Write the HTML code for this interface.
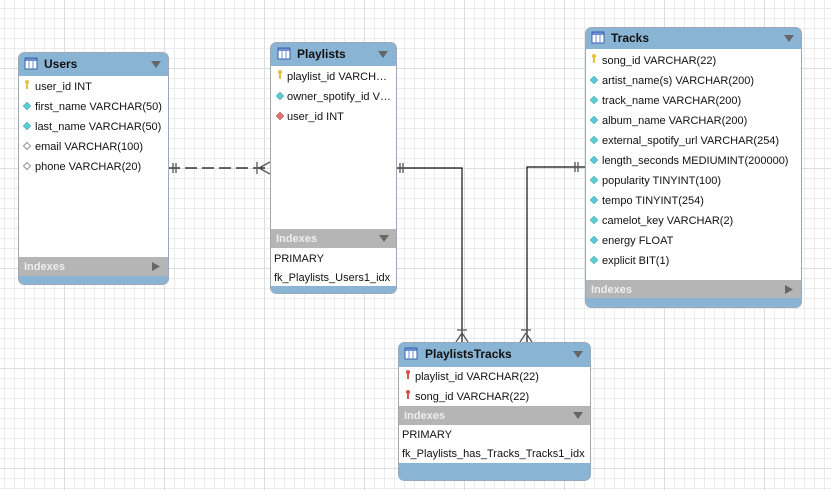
<!DOCTYPE html>
<html><head><meta charset="utf-8"><style>
html,body{margin:0;padding:0;background:#fff;}
svg{display:block;font-family:"Liberation Sans",Arial,sans-serif;}
.r{font-size:11px;fill:#111;}
.h{font-size:12px;font-weight:bold;fill:#111;}
.ix{font-size:11px;font-weight:bold;fill:#eee;}
</style></head><body>
<svg width="831" height="490" viewBox="0 0 831 490" xmlns="http://www.w3.org/2000/svg">
<defs>
<pattern id="g" x="4" y="8" width="10" height="10" patternUnits="userSpaceOnUse">
<path d="M0.5 0V10M0 0.5H10" stroke="#ebebeb" stroke-width="1" fill="none"/>
</pattern>
<pattern id="G" x="64" y="68" width="100" height="100" patternUnits="userSpaceOnUse">
<path d="M0.5 0V100M0 0.5H100" stroke="#dddddd" stroke-width="1" fill="none"/>
</pattern>
<g id="key"><path d="M-2,-4 a2,2 0 1 1 4,0 v1 l-1,1 v5 h-2 v-5 l-1,-1z" fill="#e8c040"/></g>
<g id="rkey"><path d="M-2,-4 a2,2 0 1 1 4,0 v1 l-1,1 v5 h-2 v-5 l-1,-1z" fill="#d85050"/></g>
<g id="dia"><path d="M0,-4 L4,0 L0,4 L-4,0Z" fill="#5cc8d0" stroke="#3aa0a8" stroke-width="0.5"/></g>
<g id="hdia"><path d="M0,-3.5 L3.5,0 L0,3.5 L-3.5,0Z" fill="#fff" stroke="#777" stroke-width="0.8"/></g>
<g id="rdia"><path d="M0,-4 L4,0 L0,4 L-4,0Z" fill="#e07070" stroke="#b04848" stroke-width="0.5"/></g>
<g id="tico"><rect x="0" y="0" width="12" height="11" fill="#fff" stroke="#3a5fb0"/><rect x="0.5" y="0.5" width="11" height="2.5" fill="#6f8fd0"/><path d="M4 3V11M8 3V11" stroke="#6f8fd0"/></g>
<g id="dn"><path d="M-5,-3 H5 L0,4Z" fill="#666"/></g>
</defs>
<rect width="831" height="490" fill="url(#g)"/>
<rect width="831" height="490" fill="url(#G)"/>

<!-- connectors -->
<g stroke="#111" stroke-width="1.2" fill="none">
<path d="M168 168H270" stroke-dasharray="12,5"/>
<path d="M396 168H462V342"/>
<path d="M585 167H527V342"/>
</g>
<g stroke="#555" stroke-width="1.3" fill="none">
<path d="M173 163V173M176 163V173"/>
<path d="M257 162V174M259 168L270 162M259 168L270 174"/>
<path d="M400 163V173M403 163V173"/>
<path d="M575 162V172M578 162V172"/>
<path d="M457 330H467M462 333L456 342M462 333L468 342"/>
<path d="M521 330H531M526 333L520 342M526 333L532 342"/>
</g>

<!-- Users -->
<g>
<rect x="18.5" y="52.5" width="150" height="232" rx="6" fill="#8ab4d4" stroke="#9aaabb"/>
<rect x="19" y="76" width="149" height="181" fill="#fff"/>
<rect x="19" y="257" width="149" height="19" fill="#b5b5b5"/>
<use href="#tico" x="25" y="58"/>
<text class="h" x="44" y="68">Users</text>
<use href="#dn" x="156" y="64"/>
<use href="#key" x="27" y="86"/><text class="r" x="35" y="90">user_id INT</text>
<use href="#dia" x="27" y="106"/><text class="r" x="35" y="110">first_name VARCHAR(50)</text>
<use href="#dia" x="27" y="126"/><text class="r" x="35" y="130">last_name VARCHAR(50)</text>
<use href="#hdia" x="27" y="146"/><text class="r" x="35" y="150">email VARCHAR(100)</text>
<use href="#hdia" x="27" y="166"/><text class="r" x="35" y="170">phone VARCHAR(20)</text>
<text class="ix" x="24" y="270">Indexes</text>
<path d="M152,262 L160,266.5 L152,271Z" fill="#666"/>
</g>

<!-- Playlists -->
<g>
<rect x="270.5" y="42.5" width="126" height="251" rx="6" fill="#8ab4d4" stroke="#9aaabb"/>
<rect x="271" y="66" width="125" height="163" fill="#fff"/>
<rect x="271" y="229" width="125" height="19" fill="#b5b5b5"/>
<rect x="271" y="248" width="125" height="38" fill="#fff"/>
<use href="#tico" x="278" y="48"/>
<text class="h" x="297" y="58">Playlists</text>
<use href="#dn" x="383" y="54"/>
<use href="#key" x="280" y="76"/><text class="r" x="287" y="80">playlist_id VARCH…</text>
<use href="#dia" x="280" y="96"/><text class="r" x="287" y="100">owner_spotify_id V…</text>
<use href="#rdia" x="280" y="116"/><text class="r" x="287" y="120">user_id INT</text>
<text class="ix" x="276" y="242">Indexes</text>
<use href="#dn" x="384" y="238"/>
<text class="r" x="274" y="262">PRIMARY</text>
<text class="r" x="274" y="281">fk_Playlists_Users1_idx</text>
</g>

<!-- Tracks -->
<g>
<rect x="585.5" y="27.5" width="216" height="280" rx="6" fill="#8ab4d4" stroke="#9aaabb"/>
<rect x="586" y="49" width="215" height="231" fill="#fff"/>
<rect x="586" y="280" width="215" height="18" fill="#b5b5b5"/>
<use href="#tico" x="592" y="32"/>
<text class="h" x="611" y="42">Tracks</text>
<use href="#dn" x="789" y="38"/>
<use href="#key" x="594" y="60"/><text class="r" x="602" y="64">song_id VARCHAR(22)</text>
<use href="#dia" x="594" y="80"/><text class="r" x="602" y="84">artist_name(s) VARCHAR(200)</text>
<use href="#dia" x="594" y="100"/><text class="r" x="602" y="104">track_name VARCHAR(200)</text>
<use href="#dia" x="594" y="120"/><text class="r" x="602" y="124">album_name VARCHAR(200)</text>
<use href="#dia" x="594" y="140"/><text class="r" x="602" y="144">external_spotify_url VARCHAR(254)</text>
<use href="#dia" x="594" y="160"/><text class="r" x="602" y="164">length_seconds MEDIUMINT(200000)</text>
<use href="#dia" x="594" y="180"/><text class="r" x="602" y="184">popularity TINYINT(100)</text>
<use href="#dia" x="594" y="200"/><text class="r" x="602" y="204">tempo TINYINT(254)</text>
<use href="#dia" x="594" y="220"/><text class="r" x="602" y="224">camelot_key VARCHAR(2)</text>
<use href="#dia" x="594" y="240"/><text class="r" x="602" y="244">energy FLOAT</text>
<use href="#dia" x="594" y="260"/><text class="r" x="602" y="264">explicit BIT(1)</text>
<text class="ix" x="591" y="293">Indexes</text>
<path d="M785,285 L793,289.5 L785,294Z" fill="#666"/>
</g>

<!-- PlaylistsTracks -->
<g>
<rect x="398.5" y="342.5" width="192" height="138" rx="6" fill="#8ab4d4" stroke="#9aaabb"/>
<rect x="399" y="367" width="191" height="39" fill="#fff"/>
<rect x="399" y="406" width="191" height="19" fill="#b5b5b5"/>
<rect x="399" y="425" width="191" height="38" fill="#fff"/>
<use href="#tico" x="405" y="348"/>
<text class="h" x="425" y="358">PlaylistsTracks</text>
<use href="#dn" x="578" y="354"/>
<use href="#rkey" x="408" y="376"/><text class="r" x="415" y="380">playlist_id VARCHAR(22)</text>
<use href="#rkey" x="408" y="396"/><text class="r" x="415" y="400">song_id VARCHAR(22)</text>
<text class="ix" x="404" y="419">Indexes</text>
<use href="#dn" x="578" y="415"/>
<text class="r" x="402" y="438">PRIMARY</text>
<text class="r" x="402" y="457">fk_Playlists_has_Tracks_Tracks1_idx</text>
</g>
</svg>
</body></html>
